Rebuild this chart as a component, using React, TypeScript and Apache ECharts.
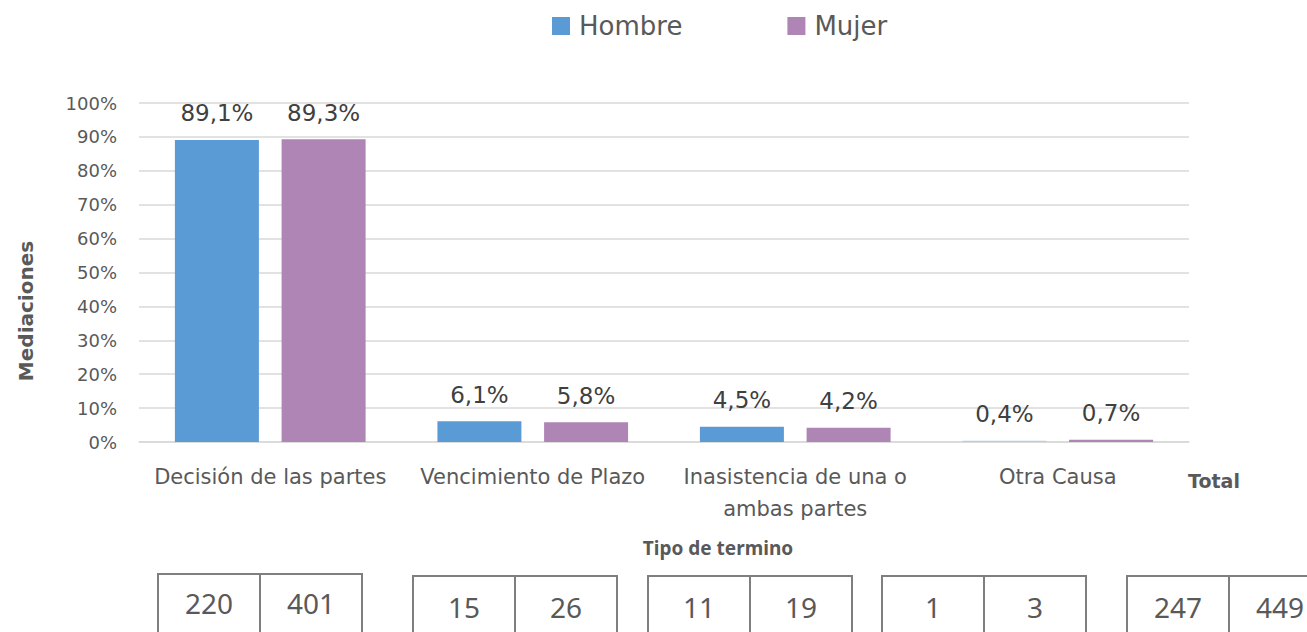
import React, { useEffect, useRef } from "react";
import * as echarts from "echarts";

const categories = [
  "Decisión de las partes",
  "Vencimiento de Plazo",
  "Inasistencia de una o\nambas partes",
  "Otra Causa",
];
const hombrePct = [89.1, 6.1, 4.5, 0.4];
const mujerPct = [89.3, 5.8, 4.2, 0.7];
const hombreCount = [220, 15, 11, 1];
const mujerCount = [401, 26, 19, 3];
const totalCount = [247, 449];
const yTicks = [0, 10, 20, 30, 40, 50, 60, 70, 80, 90, 100];

const WIDE = "'DejaVu Sans', sans-serif";
const NOTO = "'Noto Sans', 'Open Sans', sans-serif";
const TEXT = "#595959";
const LABEL = "#404040";
const BLUE = "#5b9bd5";
const LIGHT_BLUE = "#b4cde8";
const PURPLE = "#ae85b5";

export default function App() {
  const ref = useRef<HTMLDivElement>(null);

  useEffect(() => {
    if (!ref.current) return;
    const chart = echarts.init(ref.current, undefined, { renderer: "svg" });

    const fmt = (v: number) => v.toFixed(1).replace(".", ",") + "%";

    // count boxes below chart
    const boxLefts = [158, 413, 648, 882, 1127];
    const boxTops = [574, 576, 576, 576, 576];
    const cellW = 102;
    const pairs: [number, number][] = [
      ...hombreCount.map((h, i) => [h, mujerCount[i]] as [number, number]),
      [totalCount[0], totalCount[1]],
    ];
    const boxGraphics: any[] = [];
    pairs.forEach((p, i) => {
      const x = boxLefts[i];
      const y = boxTops[i];
      [0, 1].forEach((j) => {
        boxGraphics.push({
          type: "rect",
          shape: { x: x + j * cellW, y, width: cellW, height: 70 },
          style: { fill: "#ffffff", stroke: "#7f7f7f", lineWidth: 2 },
        });
        boxGraphics.push({
          type: "text",
          x: x + j * cellW + cellW / 2,
          y: i === 0 ? 603 : 607,
          style: {
            text: String(p[j]),
            fill: TEXT,
            font: `28px ${NOTO}`,
            align: "center",
            verticalAlign: "middle",
          },
        });
      });
    });

    const dataLabel = {
      show: true,
      position: "top",
      distance: 15,
      fontSize: 23,
      color: LABEL,
      fontFamily: WIDE,
      formatter: (p: any) => fmt(p.value),
    };

    chart.setOption({
      animation: false,
      backgroundColor: "#ffffff",
      textStyle: { fontFamily: WIDE },
      legend: {
        left: 552,
        top: 13,
        padding: 0,
        itemWidth: 18,
        itemHeight: 18,
        itemGap: 105,
        icon: "rect",
        textStyle: {
          fontSize: 26,
          color: TEXT,
          fontFamily: WIDE,
          padding: [0, 0, 0, 4],
        },
        data: ["Hombre", "Mujer"],
      },
      grid: { left: 139, right: 118, top: 103, bottom: 632 - 442 },
      xAxis: {
        type: "category",
        data: categories,
        axisLine: { lineStyle: { color: "#d9d9d9", width: 1.5 } },
        axisTick: { show: false },
        axisLabel: {
          interval: 0,
          fontSize: 21,
          lineHeight: 32,
          color: TEXT,
          margin: 19,
          fontFamily: WIDE,
        },
      },
      yAxis: {
        type: "value",
        min: 0,
        max: 100,
        interval: 10,
        axisLine: { show: false },
        axisTick: { show: false },
        splitLine: { lineStyle: { color: "#d9d9d9", width: 1.5 } },
        axisLabel: {
          fontSize: 18,
          color: TEXT,
          margin: 22,
          fontFamily: WIDE,
          formatter: (v: number) => (yTicks.includes(v) ? v + "%" : ""),
        },
      },
      series: [
        {
          name: "Hombre",
          type: "bar",
          barWidth: 84,
          barGap: "27%",
          itemStyle: { color: BLUE },
          data: hombrePct.map((v, i) =>
            i === 3 ? { value: v, itemStyle: { color: LIGHT_BLUE } } : v
          ),
          label: dataLabel,
        },
        {
          name: "Mujer",
          type: "bar",
          barWidth: 84,
          barGap: "27%",
          itemStyle: { color: PURPLE },
          data: mujerPct,
          label: dataLabel,
        },
      ],
      graphic: [
        {
          type: "text",
          x: 26,
          y: 311,
          rotation: Math.PI / 2,
          style: {
            text: "Mediaciones",
            fill: TEXT,
            font: `bold 20px ${WIDE}`,
            align: "center",
            verticalAlign: "middle",
          },
        },
        {
          type: "text",
          x: 1214,
          y: 481,
          style: {
            text: "Total",
            fill: TEXT,
            font: `bold 19px ${WIDE}`,
            align: "center",
            verticalAlign: "middle",
          },
        },
        {
          type: "text",
          x: 718,
          y: 548,
          style: {
            text: "Tipo de termino",
            fill: TEXT,
            font: `bold 19px ${NOTO}`,
            align: "center",
            verticalAlign: "middle",
          },
        },
        ...boxGraphics,
      ],
    });

    return () => chart.dispose();
  }, []);

  return (
    <div
      ref={ref}
      style={{ position: "fixed", left: 0, top: 0, width: 1307, height: 632 }}
    />
  );
}
